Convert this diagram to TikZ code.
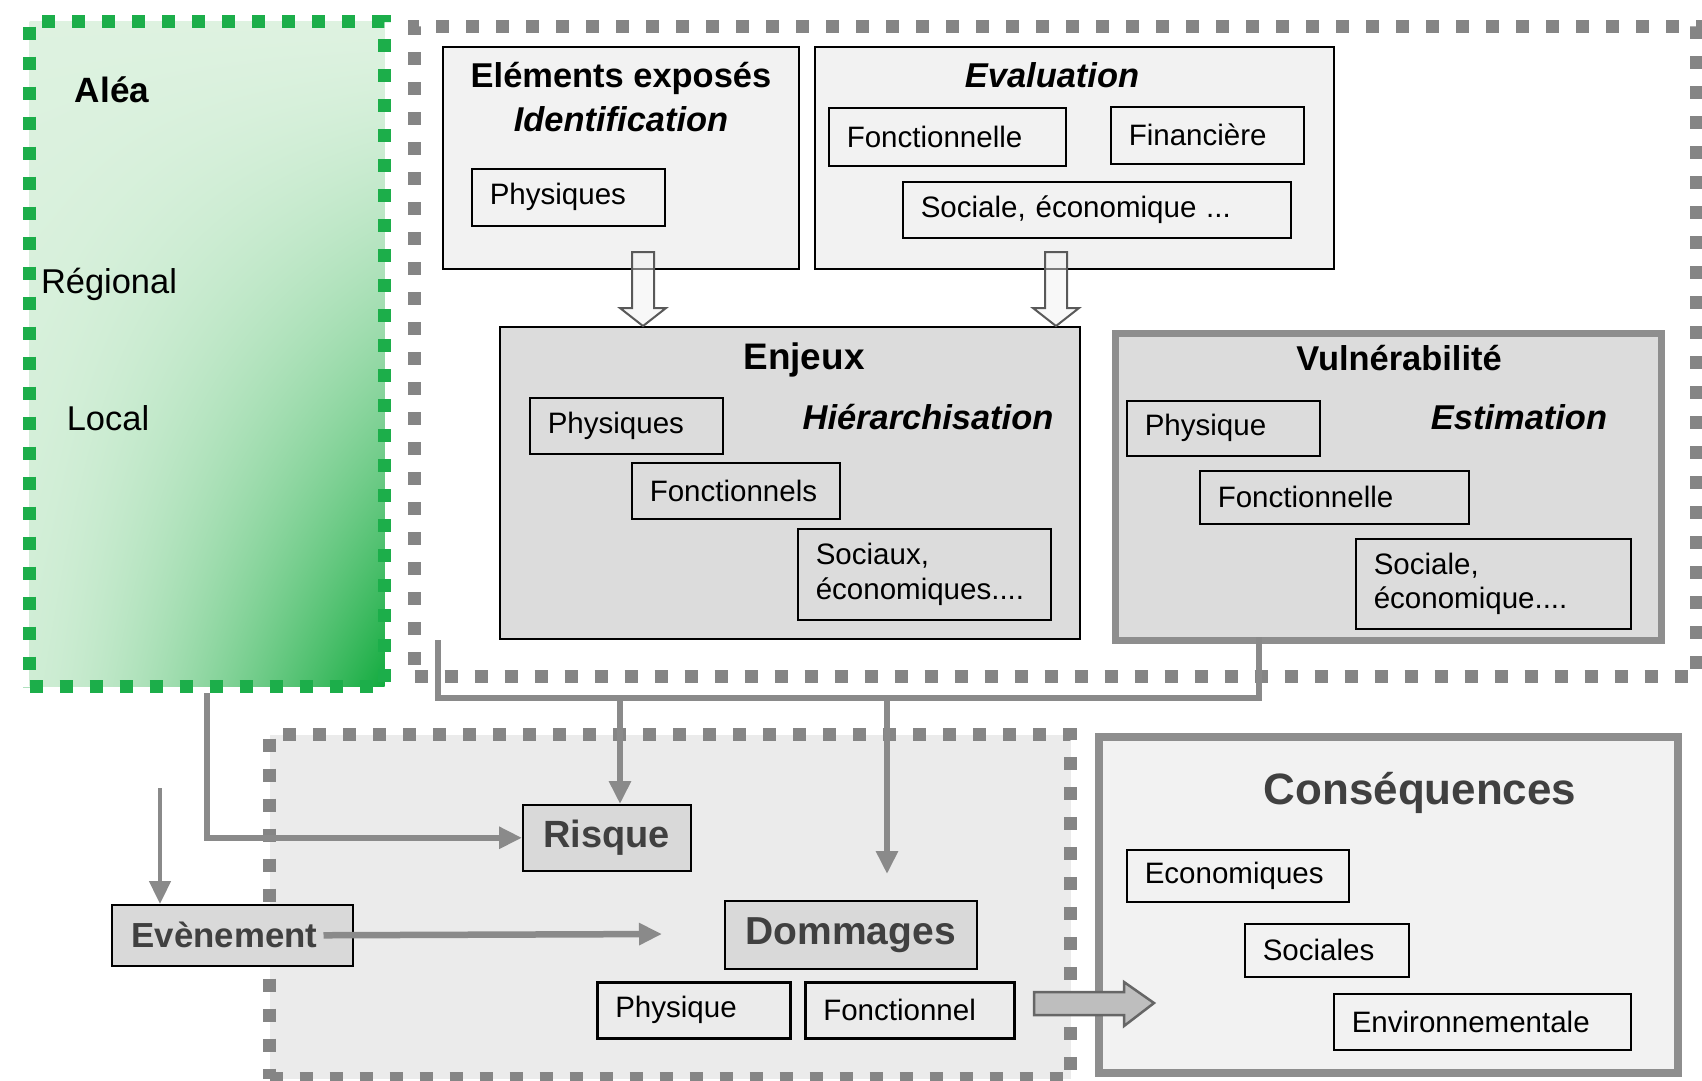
\documentclass[tikz,border=0pt]{standalone}
\usepackage{fontspec}
\setmainfont{Liberation Sans}
\usetikzlibrary{arrows.meta}
\definecolor{dashgray}{HTML}{858585}
\definecolor{linegray}{HTML}{8A8A8A}
\definecolor{aleagreen}{HTML}{1CAE4A}
\definecolor{panellight}{HTML}{F2F2F2}
\definecolor{panelmid}{HTML}{DCDCDC}
\definecolor{paneldark}{HTML}{D9D9D9}
\definecolor{zonegray}{HTML}{EBEBEB}
\definecolor{textgray}{HTML}{404040}
\definecolor{bordergray}{HTML}{8E8E8E}
\definecolor{arrowfill}{HTML}{BEBEBE}
% light green top left, strong green bottom right (path fills the 25..75 square)
\pgfdeclarefunctionalshading{aleashade}{\pgfpoint{0bp}{0bp}}{\pgfpoint{100bp}{100bp}}{}{
  75 exch sub 50 div
  dup 0.08 mul
  3 1 roll
  exch 25 sub 50 div mul
  abs 1.5 exp add
  dup -0.74 mul 0.87 add
  exch dup -0.26 mul 0.95 add
  exch -0.59 mul 0.88 add
}
\begin{document}
\begin{tikzpicture}[x=0.1mm, y=-0.1mm,
  zone/.style={anchor=north west, inner sep=0pt, line width=1.3mm, dash pattern=on 1.3mm off 1.7mm},
  panel/.style={anchor=north west, inner sep=0pt, draw=black, line width=0.15mm},
  itembox/.style={anchor=north west, draw=black, line width=0.15mm, align=left, inner xsep=1.8mm, inner ysep=0pt, font=\fontsize{8.4}{9.8}\selectfont},
  headtext/.style={font=\fontsize{9.8}{12.5}\selectfont\bfseries, align=center},
  keybox/.style={anchor=north west, draw=black, line width=0.15mm, fill=paneldark, inner sep=0pt, text=textgray},
  flow/.style={draw=linegray, line width=0.65mm, -{Triangle[length=2.3mm, width=2.1mm]}},
  busline/.style={draw=linegray, line width=0.65mm},
  hollowarrow/.style={draw=black!65, fill=panellight, fill opacity=0.5, line width=0.2mm},
]
\useasboundingbox (0,0) rectangle (1702,1080);

% zones
\node[zone, draw=dashgray, fill=white, minimum width=128.2mm, minimum height=65mm] (expo) at (408,20) {};
\node[zone, draw=aleagreen, shade, shading=aleashade, minimum width=35.5mm, minimum height=66.5mm] (alea) at (23,15) {};
\node[font=\fontsize{10}{12}\selectfont\bfseries] (aleatitle) at (112,90) {Aléa};
\node[font=\fontsize{9.8}{12}\selectfont] (regional) at (109,284) {Régional};
\node[font=\fontsize{9.8}{12}\selectfont] (local) at (108,418) {Local};

% exposed elements and evaluation
\node[panel, fill=panellight, minimum width=35.6mm, minimum height=22.2mm] (elem) at (442,46) {};
\node[headtext] (elemtitle) at (621,97) {Eléments exposés\\\textit{Identification}};
\node[itembox, fill=panellight, text width=15.7mm, minimum height=5.7mm] (elemphys) at (471,168) {Physiques};
\node[panel, fill=panellight, minimum width=51.9mm, minimum height=22.2mm] (eval) at (814,46) {};
\node[headtext] (evaltitle) at (1052,75) {\textit{Evaluation}};
\node[itembox, fill=panellight, text width=20.1mm, minimum height=5.8mm] (evalfonc) at (828,107) {Fonctionnelle};
\node[itembox, fill=panellight, text width=15.7mm, minimum height=5.7mm] (evalfin) at (1110,106) {Financière};
\node[itembox, fill=panellight, text width=35.2mm, minimum height=5.6mm] (evalsoc) at (902,181) {Sociale, économique ...};

% enjeux
\node[panel, fill=panelmid, minimum width=58mm, minimum height=31.2mm] (enj) at (499,326) {};
\node[headtext, font=\fontsize{10.5}{12.5}\selectfont\bfseries] (enjtitle) at (804,360) {Enjeux};
\node[headtext] (enjsub) at (928,417) {\textit{Hiérarchisation}};
\node[itembox, fill=panelmid, text width=15.7mm, minimum height=5.6mm] (enjphys) at (529,397) {Physiques};
\node[itembox, fill=panelmid, text width=17.2mm, minimum height=5.6mm] (enjfonc) at (631,462) {Fonctionnels};
\node[itembox, fill=panelmid, text width=21.7mm, minimum height=9.1mm] (enjsoc) at (797,528) {Sociaux,\\économiques....};

% vulnerabilite
\node[panel, draw=bordergray, line width=0.7mm, fill=panelmid, minimum width=54.6mm, minimum height=30.7mm] (vuln) at (1112,330) {};
\node[headtext] (vulntitle) at (1399,358) {Vulnérabilité};
\node[headtext] (vulnsub) at (1519,417) {\textit{Estimation}};
\node[itembox, fill=panelmid, text width=15.7mm, minimum height=5.5mm] (vulnphys) at (1126,400) {Physique};
\node[itembox, fill=panelmid, text width=23.3mm, minimum height=5.3mm] (vulnfonc) at (1199,470) {Fonctionnelle};
\node[itembox, fill=panelmid, text width=23.9mm, minimum height=9mm] (vulnsoc) at (1355,538) {Sociale,\\économique....};

% risk and damage zone
\node[zone, draw=dashgray, fill=zonegray, minimum width=80.1mm, minimum height=34.4mm] (dmgzone) at (263,728) {};
\node[panel, draw=bordergray, line width=0.8mm, fill=panellight, minimum width=57.9mm, minimum height=33.6mm] (cons) at (1095,733) {};
\node[font=\fontsize{12.5}{15}\selectfont\bfseries, text=textgray] (constitle) at (1420,793) {Conséquences};
\node[itembox, fill=panellight, text width=18.6mm, minimum height=5.2mm] (conseco) at (1126,849) {Economiques};
\node[itembox, fill=panellight, text width=12.8mm, minimum height=5.3mm] (conssoc) at (1244,923) {Sociales};
\node[itembox, fill=panellight, text width=26.1mm, minimum height=5.6mm] (consenv) at (1333,993) {Environnementale};

\node[keybox, minimum width=16.8mm, minimum height=6.6mm, font=\fontsize{10.8}{13}\selectfont\bfseries] (risque) at (522,804) {Risque};
\node[keybox, minimum width=25.2mm, minimum height=6.8mm, font=\fontsize{11.1}{13}\selectfont\bfseries] (dommages) at (724,900) {Dommages};
\node[itembox, fill=zonegray, line width=0.25mm, text width=15.7mm, minimum height=5.6mm] (dmgphys) at (596,981) {Physique};
\node[itembox, fill=zonegray, line width=0.25mm, text width=17.3mm, minimum height=5.6mm] (dmgfonc) at (804,981) {Fonctionnel};
\node[keybox, text width=20.1mm, inner xsep=2mm, align=left, minimum height=6.1mm, font=\fontsize{9.9}{12}\selectfont\bfseries] (evt) at (111,904) {Evènement};

% connectors
\draw[hollowarrow] ([xshift=14.4mm]enj.north west) -- ++(23,-18) -- ++(-12,0) -- ++(0,-56) -- ++(-22,0) -- ++(0,56) -- ++(-12,0) -- cycle;
\draw[hollowarrow] ([xshift=55.7mm]enj.north west) -- ++(23,-18) -- ++(-12,0) -- ++(0,-56) -- ++(-22,0) -- ++(0,56) -- ++(-12,0) -- cycle;

\coordinate (expoout) at (438,640);
\coordinate (vulnout) at (1259,637);
\coordinate (bus) at (850,698);
\draw[busline] (expoout) |- (bus) -| (vulnout);
\coordinate (busrisk) at (620,698);
\draw[flow] (busrisk) -- (busrisk |- risque.north);
\coordinate (busdmg) at (887,698);
\coordinate (dmgin) at (887,874);
\draw[flow] (busdmg) -- (dmgin);

\draw[flow] (alea.south) |- (risque.west);
\coordinate (evtin) at (160,788);
\draw[flow, line width=0.45mm] (evtin) -- (evtin |- evt.north);
\coordinate (dmgleft) at (662,934);
\draw[flow] ([xshift=-3mm]evt.east) -- (dmgleft);

% towards consequences
\draw[draw=black!60, fill=arrowfill, line width=0.25mm] (1034,992) -- (1124,992) -- (1124,982) -- (1154,1003) -- (1124,1026) -- (1124,1015) -- (1034,1015) -- cycle;
\end{tikzpicture}
\end{document}
